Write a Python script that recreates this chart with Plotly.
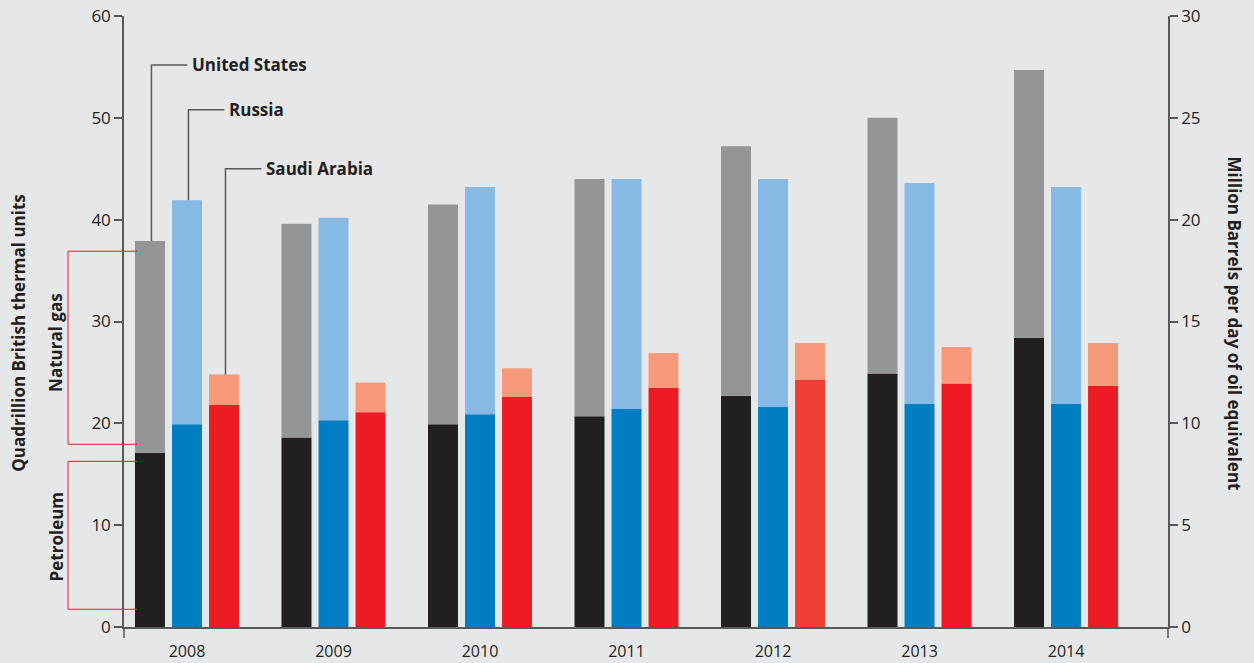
import plotly.graph_objects as go

years = ["2008", "2009", "2010", "2011", "2012", "2013", "2014"]
countries = ["United States", "Russia", "Saudi Arabia"]

us_petroleum = [17.1, 18.6, 19.9, 20.7, 22.7, 24.9, 28.4]
us_gas = [20.8, 21.0, 21.6, 23.3, 24.5, 25.1, 26.3]
ru_petroleum = [19.9, 20.3, 20.9, 21.4, 21.6, 21.9, 21.9]
ru_gas = [22.0, 19.9, 22.3, 22.6, 22.4, 21.7, 21.3]
sa_petroleum = [21.8, 21.1, 22.6, 23.5, 24.3, 23.9, 23.7]
sa_gas = [3.0, 2.9, 2.8, 3.4, 3.6, 3.6, 4.2]

left_ticks = [0, 10, 20, 30, 40, 50, 60]
right_ticks = [0, 5, 10, 15, 20, 25, 30]

BG = "#E6E7E8"
TXT = "#231F20"
AX = "#58595B"
RED = "#ED1C24"
FONT = "Open Sans"

series = [
    ("us", us_petroleum, us_gas, ["#231F20"] * 7, "#939598"),
    ("ru", ru_petroleum, ru_gas, ["#007DC3"] * 7, "#86B9E3"),
    ("sa", sa_petroleum, sa_gas,
     ["#ED1C24", "#ED1C24", "#ED1C24", "#ED1C24", "#EF3E36", "#ED1C24", "#ED1C24"],
     "#F6987A"),
]

fig = go.Figure()
x_idx = list(range(len(years)))
for key, pet, gas, pcol, gcol in series:
    fig.add_trace(go.Bar(x=x_idx, y=pet, offsetgroup=key, marker_color=pcol,
                         marker_line_width=0, showlegend=False, hoverinfo="skip"))
    fig.add_trace(go.Bar(x=x_idx, y=gas, base=pet, offsetgroup=key, marker_color=gcol,
                         marker_line_width=0, showlegend=False, hoverinfo="skip"))

W, H = 1254, 663
ML, MR, MT, MB = 124, 86, 16, 36
bargap = 0.242
slot = (1 - bargap) / 3

fig.update_layout(
    width=W, height=H,
    margin=dict(l=ML, r=MR, t=MT, b=MB, autoexpand=False),
    paper_bgcolor=BG, plot_bgcolor=BG,
    barmode="group", bargap=bargap, bargroupgap=0.19,
    font=dict(family=FONT, color=TXT, size=16),
    showlegend=False,
    xaxis=dict(range=[-0.43, 6.696], tickmode="array", tickvals=x_idx, ticktext=years,
               showgrid=False, zeroline=False, showline=True, linecolor=AX, linewidth=1.5,
               ticks="", ticklabelstandoff=9, automargin=False,
               tickfont=dict(size=16, color=TXT, family=FONT)),
    yaxis=dict(range=[0, 60], tickvals=left_ticks, showgrid=False, zeroline=False,
               showline=True, linecolor=AX, linewidth=1.5, ticks="outside", ticklen=8,
               tickcolor=AX, tickwidth=1.5, automargin=False,
               tickfont=dict(size=17, color=TXT, family=FONT)),
    yaxis2=dict(range=[0, 30], tickvals=right_ticks, overlaying="y", side="right",
                showgrid=False, zeroline=False, showline=True, linecolor=AX, linewidth=1.5,
                ticks="outside", ticklen=8, tickcolor=AX, tickwidth=1.5, automargin=False,
                tickfont=dict(size=17, color=TXT, family=FONT)),
)
# dummy trace to make yaxis2 render
fig.add_trace(go.Scatter(x=[None], y=[None], yaxis="y2", showlegend=False, hoverinfo="skip"))

pw = W - ML - MR
ph = H - MT - MB

def px_x(p):
    return (p - ML) / pw

def px_y(p):
    return (H - MB - p) / ph

shapes = []
# axis extensions below baseline
for xp in (0, 1):
    shapes.append(dict(type="line", xref="paper", yref="paper", x0=xp, x1=xp,
                       y0=0, y1=px_y(638), line=dict(color=AX, width=1.5)))

# red brackets
bx0, bx1 = px_x(68), px_x(137)
for top, bot in ((36.9, 17.94), (16.27, 1.74)):
    shapes.append(dict(type="path", xref="paper", yref="y",
                       path=f"M {bx1},{top} L {bx0},{top} L {bx0},{bot} L {bx1},{bot}",
                       line=dict(color=RED, width=1)))

# leader lines
first_tops = [us_petroleum[0] + us_gas[0], ru_petroleum[0] + ru_gas[0], sa_petroleum[0] + sa_gas[0]]
label_y = [55.2, 50.8, 45.0]
for i, (name, top, ly) in enumerate(zip(countries, first_tops, label_y)):
    cx = (i - 1) * slot + 0.01
    hx = cx + 0.245
    shapes.append(dict(type="path", xref="x", yref="y",
                       path=f"M {cx},{top} L {cx},{ly} L {hx},{ly}",
                       line=dict(color=AX, width=1.5)))
    fig.add_annotation(x=hx, y=ly, xref="x", yref="y", text=f"<b>{name}</b>",
                       showarrow=False, xanchor="left", yanchor="middle", xshift=3,
                       font=dict(size=17, color=TXT, family=FONT))

fig.update_layout(shapes=shapes)

# side labels
side = dict(showarrow=False, xanchor="center", yanchor="middle", xref="paper", yref="y")
fig.add_annotation(x=px_x(56), y=27.9, text="<b>Natural gas</b>", textangle=-90,
                   font=dict(size=17, color=TXT, family=FONT), **side)
fig.add_annotation(x=px_x(56), y=8.8, text="<b>Petroleum</b>", textangle=-90,
                   font=dict(size=17, color=TXT, family=FONT), **side)
fig.add_annotation(x=px_x(19), y=28.9, text="<b>Quadrillion British thermal units</b>",
                   textangle=-90, font=dict(size=17, color=TXT, family=FONT), **side)
fig.add_annotation(x=px_x(1234), y=29.8, text="<b>Million Barrels per day of oil equivalent</b>",
                   textangle=90, font=dict(size=17, color=TXT, family=FONT), **side)

fig.write_html("out.html")
